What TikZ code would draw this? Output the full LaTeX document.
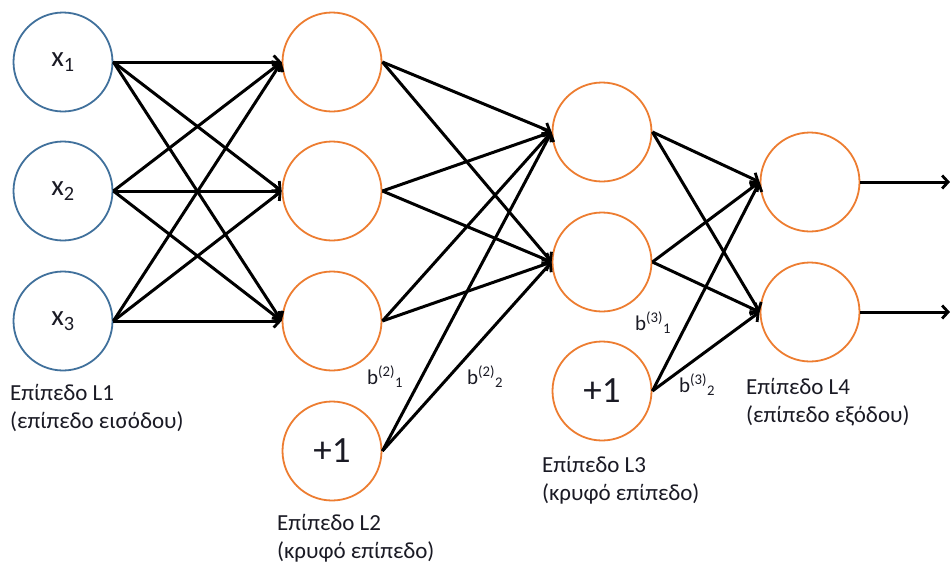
\documentclass[tikz,border=0pt]{standalone}
\usepackage{fontspec}
\setmainfont{Carlito}
\usetikzlibrary{arrows.meta}
\definecolor{inblue}{HTML}{41719C}
\definecolor{hidorange}{HTML}{ED7D31}
\definecolor{txt}{HTML}{1A1A24}
\begin{document}
\begin{tikzpicture}[x=1pt,y=-1pt,
  neuron/.style={circle,draw,line width=1.8pt,minimum size=99pt,inner sep=0pt,text=txt},
  inneuron/.style={neuron,draw=inblue,font=\fontsize{29}{33}\selectfont},
  hidneuron/.style={neuron,draw=hidorange,font=\fontsize{37}{41}\selectfont},
  conn/.style={line width=3pt,-{Straight Barb[length=6pt,width=13pt,line width=2.8pt]}},
  layerlabel/.style={anchor=north west,align=left,inner sep=0pt,text=txt,font=\fontsize{23}{28}\selectfont},
  biaslabel/.style={anchor=base west,inner sep=0pt,text=txt,font=\fontsize{21}{24}\selectfont}]
\path[use as bounding box,fill=white] (0,0) rectangle (950,565);
% layer 1
\node[inneuron] (x1) at (63,62) {x\textsubscript{1}};
\node[inneuron] (x2) at (63,191) {x\textsubscript{2}};
\node[inneuron] (x3) at (63,321) {x\textsubscript{3}};
% layer 2
\node[hidneuron] (a1) at (332,62) {};
\node[hidneuron] (a2) at (332,191) {};
\node[hidneuron] (a3) at (332,321) {};
\node[hidneuron] (b2) at (332,451) {+1};
% layer 3
\node[hidneuron] (h1) at (602,132) {};
\node[hidneuron] (h2) at (602,262) {};
\node[hidneuron] (b3) at (602,391) {+1};
% layer 4
\node[hidneuron] (o1) at (810,182) {};
\node[hidneuron] (o2) at (810,312) {};
\coordinate (y1) at (950,182);
\coordinate (y2) at (950,312);
% connections L1 -> L2
\foreach \s in {x1,x2,x3}{
  \foreach \t in {a1,a2,a3}{
    \draw[conn] (\s.east) -- (\t.west);
  }
}
% L2 -> L3
\foreach \s in {a1,a2,a3,b2}{
  \foreach \t in {h1,h2}{
    \draw[conn] (\s.east) -- (\t.west);
  }
}
% L3 -> L4
\foreach \s in {h1,h2,b3}{
  \foreach \t in {o1,o2}{
    \draw[conn] (\s.east) -- (\t.west);
  }
}
\draw[conn] (o1.east) -- (y1);
\draw[conn] (o2.east) -- (y2);
% labels
\node[layerlabel] (l1) at (10,384) {Επίπεδο L1\\(επίπεδο εισόδου)};
\node[layerlabel] (l2) at (277,514) {Επίπεδο L2\\(κρυφό επίπεδο)};
\node[layerlabel] (l3) at (542,456) {Επίπεδο L3\\(κρυφό επίπεδο)};
\node[layerlabel] (l4) at (746,378) {Επίπεδο L4\\(επίπεδο εξόδου)};
\node[biaslabel] (b21) at (367,384) {b\textsuperscript{(2)}\textsubscript{1}};
\node[biaslabel] (b22) at (467,384) {b\textsuperscript{(2)}\textsubscript{2}};
\node[biaslabel] (b31) at (635,330) {b\textsuperscript{(3)}\textsubscript{1}};
\node[biaslabel] (b32) at (679,392) {b\textsuperscript{(3)}\textsubscript{2}};
\end{tikzpicture}
\end{document}
